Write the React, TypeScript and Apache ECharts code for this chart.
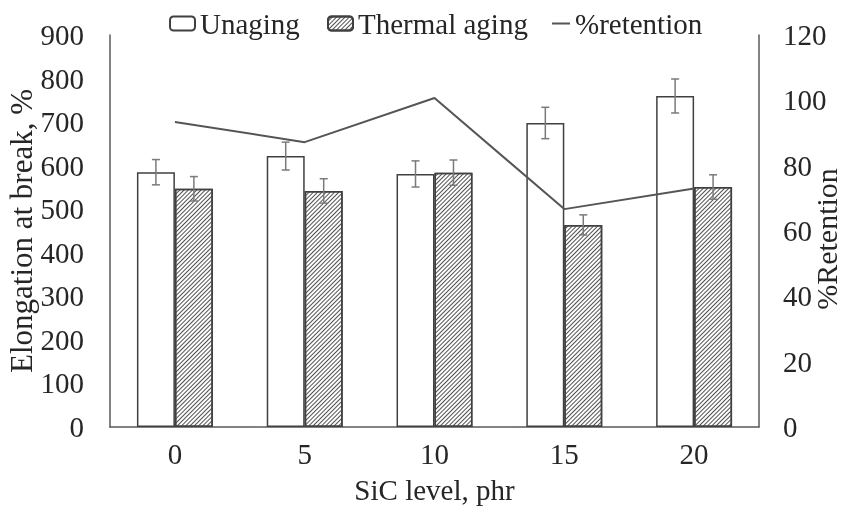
import React, { useEffect, useRef } from "react";
import * as echarts from "echarts";

const categories = ["0", "5", "10", "15", "20"];
const unaging = [585, 622, 581, 698, 760];
const unagingErr = [29, 32, 30, 36, 39];
const thermal = [547, 542, 584, 464, 551];
const thermalErr = [28, 28, 29, 23, 28];
const retention = [93.4, 87.2, 100.7, 66.7, 73.0];

const FONT = "Liberation Serif";
const TXT = "#262626";
const GAP = 0.415;

function errorSeries(name: string, values: number[], errs: number[], side: number) {
  return {
    type: "custom",
    name: name + " err",
    yAxisIndex: 0,
    silent: true,
    z: 5,
    data: values.map((v, i) => [i, v, errs[i]]),
    renderItem: (params: any, api: any) => {
      const idx = api.value(0);
      const v = api.value(1);
      const e = api.value(2);
      const band = api.size([1, 0])[0];
      const barW = (band * (1 - GAP)) / 2;
      const c = api.coord([idx, v]);
      const x = c[0] + (side * barW) / 2;
      const yTop = api.coord([idx, v + e])[1];
      const yBot = api.coord([idx, v - e])[1];
      const cap = 4;
      const st = { stroke: "#7a7a7a", lineWidth: 1.5 };
      return {
        type: "group",
        children: [
          { type: "line", shape: { x1: x, y1: yTop, x2: x, y2: yBot }, style: st },
          { type: "line", shape: { x1: x - cap, y1: yTop, x2: x + cap, y2: yTop }, style: st },
          { type: "line", shape: { x1: x - cap, y1: yBot, x2: x + cap, y2: yBot }, style: st },
        ],
      };
    },
  };
}

export default function App() {
  const ref = useRef<HTMLDivElement>(null);
  useEffect(() => {
    if (!ref.current) return;
    const chart = echarts.init(ref.current, null, { renderer: "svg" });
    const legendText = { fontFamily: FONT, fontSize: 29, color: TXT };
    chart.setOption({
      animation: false,
      textStyle: { fontFamily: FONT },
      grid: {
        left: 110,
        right: 85,
        top: 35,
        bottom: 84,
        containLabel: false,
        outerBoundsMode: "none",
      },
      legend: [
        {
          data: ["Unaging"],
          left: 164,
          top: 4,
          itemWidth: 25,
          itemHeight: 14,
          textStyle: legendText,
          selectedMode: false,
        },
        {
          data: ["Thermal aging"],
          left: 322,
          top: 4,
          itemWidth: 25,
          itemHeight: 14,
          textStyle: legendText,
          selectedMode: false,
        },
        {
          data: [{ name: "%retention", icon: "rect" }],
          left: 547,
          top: 4,
          itemWidth: 18,
          itemHeight: 2,
          textStyle: legendText,
          selectedMode: false,
        },
      ],
      xAxis: {
        type: "category",
        data: categories,
        name: "SiC level, phr",
        nameLocation: "middle",
        nameGap: 48,
        nameMoveOverlap: false,
        nameTextStyle: { fontFamily: FONT, fontSize: 29, color: TXT },
        axisLine: { lineStyle: { color: "#5a5a5a", width: 1.5 } },
        axisTick: { show: false },
        axisLabel: { fontFamily: FONT, fontSize: 29, color: TXT, margin: 12 },
      },
      yAxis: [
        {
          type: "value",
          min: 0,
          max: 900,
          interval: 100,
          name: "Elongation at break, %",
          nameLocation: "middle",
          nameGap: 73,
          nameRotate: 90,
          nameMoveOverlap: false,
          nameTextStyle: { fontFamily: FONT, fontSize: 31, color: TXT },
          axisLine: { show: true, lineStyle: { color: "#5a5a5a", width: 1.5 } },
          axisTick: { show: false },
          splitLine: { show: false },
          axisLabel: { fontFamily: FONT, fontSize: 29, color: TXT, margin: 26 },
        },
        {
          type: "value",
          min: 0,
          max: 120,
          interval: 20,
          position: "right",
          axisLine: { show: true, lineStyle: { color: "#5a5a5a", width: 1.5 } },
          axisTick: { show: false },
          splitLine: { show: false },
          axisLabel: { fontFamily: FONT, fontSize: 29, color: TXT, margin: 24 },
        },
      ],
      graphic: [
        {
          type: "text",
          x: 826,
          y: 239,
          rotation: Math.PI / 2,
          style: {
            text: "%Retention",
            font: `30px "${FONT}"`,
            fill: TXT,
            textAlign: "center",
            textVerticalAlign: "middle",
          },
        },
      ],
      series: [
        {
          name: "Unaging",
          type: "bar",
          data: unaging,
          barGap: "0%",
          barCategoryGap: GAP * 100 + "%",
          itemStyle: { color: "#ffffff", borderColor: "#404040", borderWidth: 1.5 },
        },
        {
          name: "Thermal aging",
          type: "bar",
          data: thermal,
          itemStyle: {
            color: "#ffffff",
            borderColor: "#404040",
            borderWidth: 1.5,
            decal: {
              symbol: "rect",
              symbolSize: 1,
              dashArrayX: [1, 0],
              dashArrayY: [1, 2],
              rotation: -Math.PI / 4,
              color: "#505050",
              backgroundColor: "#ffffff",
            },
          },
        },
        {
          name: "%retention",
          type: "line",
          yAxisIndex: 1,
          data: retention,
          symbol: "none",
          z: 10,
          lineStyle: { color: "#555555", width: 2 },
          itemStyle: { color: "#555555" },
        },
        errorSeries("Unaging", unaging, unagingErr, -1),
        errorSeries("Thermal aging", thermal, thermalErr, 1),
      ],
    });
    return () => chart.dispose();
  }, []);
  return (
    <div
      ref={ref}
      style={{ position: "fixed", left: 0, top: 0, width: 844, height: 511 }}
    />
  );
}
